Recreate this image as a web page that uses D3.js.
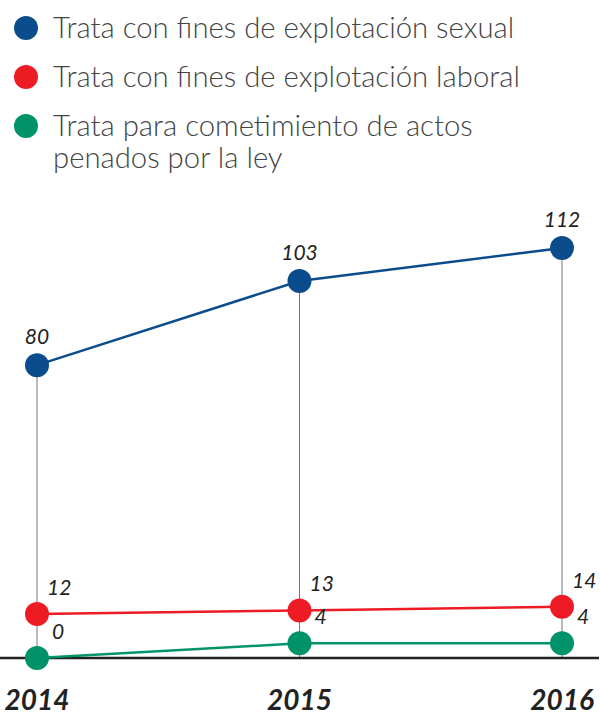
<!DOCTYPE html>
<html>
<head>
<meta charset="utf-8">
<script src="https://cdn.jsdelivr.net/npm/d3@7"></script>
<style>
  body { margin: 0; background: #fff; }
  svg { display: block; font-family: Lato, "Open Sans", sans-serif; }
</style>
</head>
<body>
<div id="chart"></div>
<script>
var years = ["2014", "2015", "2016"];
var seriesNames = [
    ["Trata con fines de explotación sexual"],
    ["Trata con fines de explotación laboral"],
    ["Trata para cometimiento de actos", "penados por la ley"]
];
var seriesColors = ["#0b4c8c", "#ed1c24", "#00936a"];
var sexual = [80, 103, 112];
var laboral = [12, 13, 14];
var actos = [0, 4, 4];

var series = [
    {name: seriesNames[0], color: seriesColors[0], values: sexual, labelPos: "above", dx: 0},
    {name: seriesNames[1], color: seriesColors[1], values: laboral, labelPos: "right", dx: 10},
    {name: seriesNames[2], color: seriesColors[2], values: actos, labelPos: "right", dx: 15}
];

var width = 601, height = 718;

var svg = d3.select("#chart").append("svg")
    .attr("width", width)
    .attr("height", height);

// Legend
var legend = svg.append("g");
var legendY = [28, 77, 126];
series.forEach(function(s, i) {
    var g = legend.append("g").attr("transform", "translate(0," + legendY[i] + ")");
    g.append("circle").attr("cx", 26).attr("cy", 0).attr("r", 12).style("fill", s.color);
    s.name.forEach(function(line, j) {
        g.append("text")
            .attr("x", 53)
            .attr("y", 10 + j * 32)
            .style("font-size", "29.3px")
            .style("font-weight", 300)
            .style("fill", "#444")
            .text(line);
    });
});

// Scales
var xScale = d3.scalePoint().domain(years).range([37, 562]);
var yScale = d3.scaleLinear().domain([0, 112]).range([658, 248]);

// Vertical guide lines from the top point down to the baseline
years.forEach(function(yr, i) {
    svg.append("line")
        .attr("x1", xScale(yr)).attr("x2", xScale(yr))
        .attr("y1", yScale(sexual[i])).attr("y2", yScale(0))
        .style("stroke", "#777")
        .style("stroke-width", 1);
});

// Baseline
svg.append("line")
    .attr("x1", 0).attr("x2", width - 2)
    .attr("y1", yScale(0)).attr("y2", yScale(0))
    .style("stroke", "#222")
    .style("stroke-width", 2.5);

var line = d3.line()
    .x(function(d, i) { return xScale(years[i]); })
    .y(function(d) { return yScale(d); });

// draw bottom series first so blue sits on top
series.slice().reverse().forEach(function(s) {
    svg.append("path")
        .datum(s.values)
        .attr("d", line)
        .style("fill", "none")
        .style("stroke", s.color)
        .style("stroke-width", 2.5);
    svg.selectAll(null).data(s.values).enter().append("circle")
        .attr("cx", function(d, i) { return xScale(years[i]); })
        .attr("cy", function(d) { return yScale(d); })
        .attr("r", 12)
        .style("fill", s.color);
});

// Value labels
series.forEach(function(s) {
    svg.selectAll(null).data(s.values).enter().append("text")
        .attr("x", function(d, i) { return xScale(years[i]) + s.dx; })
        .attr("y", function(d) {
            return s.labelPos == "above" ? yScale(d) - 21 : yScale(d) - 19;
        })
        .attr("text-anchor", s.labelPos == "above" ? "middle" : "start")
        .style("font-size", "21px")
        .style("font-style", "italic")
        .style("font-weight", 400)
        .style("fill", "#222")
        .text(function(d) { return d; });
});

// Year labels
svg.selectAll("text.year").data(years).enter().append("text")
    .attr("class", "year")
    .attr("x", function(d) { return xScale(d); })
    .attr("y", 710)
    .attr("text-anchor", "middle")
    .style("font-size", "28px")
    .style("font-style", "italic")
    .style("font-weight", 700)
    .style("fill", "#222")
    .text(function(d) { return d; });
</script>
</body>
</html>
